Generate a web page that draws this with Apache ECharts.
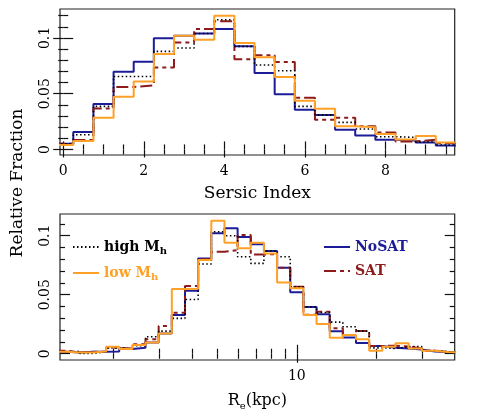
<!DOCTYPE html>
<html>
<head>
<meta charset="utf-8">
<script src="https://cdn.jsdelivr.net/npm/echarts@6/dist/echarts.min.js"></script>
<style>
html,body{margin:0;padding:0;background:#fff;}
#chart{width:480px;height:419px;}
</style>
</head>
<body>
<div id="chart"></div>
<script>
// ---------- DATA ----------
// Top panel: Sersic index histogram (bin centres, bin width 0.5)
const sersicCenters = [0, 0.5, 1, 1.5, 2, 2.5, 3, 3.5, 4, 4.5, 5, 5.5, 6, 6.5, 7, 7.5, 8, 8.5, 9, 9.5];
const sersicNoSAT = [0.005, 0.0156, 0.0407, 0.0697, 0.0787, 0.0997, 0.102, 0.104, 0.108, 0.0925, 0.0686, 0.0494, 0.0356, 0.0309, 0.0177, 0.0126, 0.0087, 0.0081, 0.0063, 0.0036];
const sersicSAT   = [0.005, 0.0084, 0.0368, 0.056, 0.0575, 0.0736, 0.096, 0.108, 0.115, 0.081, 0.0844, 0.0784, 0.0464, 0.0267, 0.0285, 0.0207, 0.0153, 0.0072, 0.0087, 0.0057];
const sersicHigh  = [0.005, 0.0132, 0.0386, 0.0655, 0.0655, 0.088, 0.091, 0.104, 0.1164, 0.0925, 0.0758, 0.0706, 0.0386, 0.031, 0.0243, 0.0183, 0.0114, 0.0108, 0.0066, 0.004];
const sersicLow   = [0.004, 0.0075, 0.0285, 0.0473, 0.061, 0.0856, 0.102, 0.0985, 0.120, 0.0955, 0.0826, 0.065, 0.0437, 0.0365, 0.0207, 0.0198, 0.0138, 0.009, 0.012, 0.0063];
const sersicBinWidth = 0.5;

// Bottom panel: Re histogram (bin centres in log10(Re/kpc), bin width 0.05 dex)
const reLogCenters = [0.10, 0.15, 0.20, 0.25, 0.30, 0.35, 0.40, 0.45, 0.50, 0.55, 0.60, 0.65, 0.70, 0.75, 0.80, 0.85, 0.90, 0.95, 1.00, 1.05, 1.10, 1.15, 1.20, 1.25, 1.30, 1.35, 1.40, 1.45, 1.50, 1.55, 1.60];
const reNoSAT = [0.0017, 0.0011, 0.0017, 0.0017, 0.002, 0.004, 0.005, 0.0096, 0.0172, 0.0328, 0.0534, 0.0808, 0.102, 0.1063, 0.099, 0.0927, 0.087, 0.0729, 0.052, 0.0395, 0.0334, 0.019, 0.0138, 0.0092, 0.0066, 0.005, 0.0045, 0.0035, 0.002, 0.0015, 0.0012];
const reSAT   = [0.0026, 0.0011, 0.0017, 0.0017, 0.005, 0.0045, 0.008, 0.0122, 0.0235, 0.0348, 0.0574, 0.080, 0.0864, 0.0879, 0.1006, 0.084, 0.0845, 0.0729, 0.0568, 0.033, 0.0356, 0.0215, 0.0158, 0.0192, 0.0066, 0.0068, 0.006, 0.0045, 0.0025, 0.0015, 0.0012];
const reHigh  = [0.0017, 0.002, 0.0002, 0.0017, 0.005, 0.004, 0.0068, 0.0144, 0.0192, 0.030, 0.046, 0.076, 0.1034, 0.100, 0.0822, 0.0766, 0.087, 0.0822, 0.0568, 0.0398, 0.035, 0.0268, 0.0229, 0.0192, 0.005, 0.0045, 0.006, 0.006, 0.0028, 0.0018, 0.0012];
const reLow   = [0.0017, 0.0011, 0.0011, 0.002, 0.0059, 0.004, 0.0074, 0.0096, 0.0172, 0.0548, 0.055, 0.0794, 0.1127, 0.094, 0.0893, 0.094, 0.085, 0.0604, 0.0555, 0.0328, 0.0252, 0.0136, 0.0158, 0.0122, 0.0025, 0.0059, 0.0088, 0.0045, 0.0025, 0.0015, 0.0012];
const reBinWidth = 0.05;

// Tick labels / tick positions
const sersicMajorTicks = [0, 2, 4, 6, 8];
const sersicMinorTicks = [0.5, 1, 1.5, 2.5, 3, 3.5, 4.5, 5, 5.5, 6.5, 7, 7.5, 8.5, 9, 9.5];
const fracMajorTicks = [0, 0.05, 0.1];
const fracMinorTicks = [0.01, 0.02, 0.03, 0.04, 0.06, 0.07, 0.08, 0.09, 0.11, 0.12];
const reLabelKpc = [10];
const reMinorKpc = [2, 3, 4, 5, 6, 7, 8, 9, 20, 30];

// ---------- STYLE ----------
const FONT = 'DejaVu Serif';
const C_BLUE = '#1c1c98';
const C_RED = '#8e1b1b';
const C_ORANGE = '#ffa126';
const C_BLACK = '#000000';

function histPoints(centers, values, width) {
  const pts = centers.map((c, i) => [c - width / 2, values[i]]);
  pts.push([centers[centers.length - 1] + width / 2, values[values.length - 1]]);
  return pts;
}

const styles = {
  'NoSAT':   { color: C_BLUE,   width: 2,   type: 'solid' },
  'SAT':     { color: C_RED,    width: 2,   type: [12, 4, 4, 4] },
  'high Mh': { color: C_BLACK,  width: 1.6, type: [1.5, 2.5] },
  'low Mh':  { color: C_ORANGE, width: 2,   type: 'solid' }
};

function mkSeries(name, xi, yi, centers, values, width) {
  const s = styles[name];
  return {
    name, type: 'line', xAxisIndex: xi, yAxisIndex: yi,
    step: 'end', symbol: 'none', showSymbol: false, animation: false,
    lineStyle: { color: s.color, width: s.width, type: s.type },
    itemStyle: { color: s.color },
    data: histPoints(centers, values, width)
  };
}

function tickAxis(base, values, len, showLabel, labelExtra) {
  return Object.assign({
    type: 'value', splitLine: { show: false },
    axisLine: { show: false },
    axisTick: { show: true, inside: true, length: len, customValues: values, lineStyle: { color: '#111', width: 1.2 } },
    axisLabel: showLabel ? Object.assign({ customValues: values, color: '#000', fontFamily: FONT, fontSize: 14 }, labelExtra || {}) : { show: false }
  }, base);
}

const log10 = v => Math.log10(v);
const reMin = 0.1, reMax = 1.6;

const xAxes = [
  // top panel (grid 0)
  tickAxis({ gridIndex: 0, position: 'bottom', min: -0.08, max: 9.72,
    name: 'Sersic Index', nameLocation: 'middle', nameGap: 30,
    nameTextStyle: { fontFamily: FONT, fontSize: 17, color: '#000' } },
    sersicMajorTicks, 8, true, { margin: 9 }),
  tickAxis({ gridIndex: 0, position: 'bottom', min: -0.08, max: 9.72 }, sersicMinorTicks, 5, false),
  tickAxis({ gridIndex: 0, position: 'top', min: -0.08, max: 9.72 }, sersicMajorTicks, 8, false),
  tickAxis({ gridIndex: 0, position: 'top', min: -0.08, max: 9.72 }, sersicMinorTicks, 5, false),
  // bottom panel (grid 1), log10(Re) coordinates
  tickAxis({ gridIndex: 1, position: 'bottom', min: reMin, max: reMax,
    name: 'R{s|e}(kpc)', nameLocation: 'middle', nameGap: 31,
    nameTextStyle: { fontFamily: FONT, fontSize: 16, color: '#000',
      rich: { s: { fontFamily: FONT, fontSize: 10, color: '#000', padding: [10, 0, 0, 0] } } } },
    reLabelKpc.map(log10), 9, true,
    { margin: 9, formatter: v => String(Math.round(Math.pow(10, v))) }),
  tickAxis({ gridIndex: 1, position: 'bottom', min: reMin, max: reMax }, reMinorKpc.map(log10), 5, false),
  tickAxis({ gridIndex: 1, position: 'top', min: reMin, max: reMax }, reLabelKpc.map(log10), 9, false),
  tickAxis({ gridIndex: 1, position: 'top', min: reMin, max: reMax }, reMinorKpc.map(log10), 5, false)
];

const yLabelExtra = { rotate: 90, margin: 8 };
const yAxes = [
  tickAxis({ gridIndex: 0, position: 'left', min: -0.005, max: 0.126 }, fracMajorTicks, 10, true, yLabelExtra),
  tickAxis({ gridIndex: 0, position: 'left', min: -0.005, max: 0.126 }, fracMinorTicks, 5, false),
  tickAxis({ gridIndex: 0, position: 'right', min: -0.005, max: 0.126 }, fracMajorTicks, 10, false),
  tickAxis({ gridIndex: 0, position: 'right', min: -0.005, max: 0.126 }, fracMinorTicks, 5, false),
  tickAxis({ gridIndex: 1, position: 'left', min: -0.0053, max: 0.1184 }, fracMajorTicks, 10, true, yLabelExtra),
  tickAxis({ gridIndex: 1, position: 'left', min: -0.0053, max: 0.1184 }, fracMinorTicks, 5, false),
  tickAxis({ gridIndex: 1, position: 'right', min: -0.0053, max: 0.1184 }, fracMajorTicks, 10, false),
  tickAxis({ gridIndex: 1, position: 'right', min: -0.0053, max: 0.1184 }, fracMinorTicks, 5, false)
];

const legendLabel = { 'high Mh': 'high M{s|h}', 'low Mh': 'low M{s|h}', 'NoSAT': 'NoSAT', 'SAT': 'SAT' };
const legendText = {
  fontFamily: FONT, fontSize: 14, fontWeight: 'bold',
  rich: { s: { fontFamily: FONT, fontSize: 10, fontWeight: 'bold', padding: [8, 0, 0, 0] } }
};
function legendCfg(left, names) {
  return {
    left, top: 240, orient: 'vertical', padding: 0, itemWidth: 26, itemHeight: 14, itemGap: 10,
    selectedMode: false,
    itemStyle: { color: 'transparent', borderColor: 'transparent', borderWidth: 0, opacity: 0 },
    formatter: n => legendLabel[n],
    textStyle: legendText,
    data: names.map(n => ({ name: n, textStyle: { color: styles[n].color } }))
  };
}

const option = {
  backgroundColor: '#fff',
  animation: false,
  grid: [
    { left: 60, top: 9, width: 394.7, height: 146, show: true, borderColor: '#222', borderWidth: 1.2, backgroundColor: 'transparent' },
    { left: 60, top: 214, width: 394.7, height: 146, show: true, borderColor: '#222', borderWidth: 1.2, backgroundColor: 'transparent' }
  ],
  xAxis: xAxes,
  yAxis: yAxes,
  legend: [legendCfg(72, ['high Mh', 'low Mh']), legendCfg(323, ['NoSAT', 'SAT'])],
  graphic: [{
    type: 'text', x: 18, y: 183, rotation: Math.PI / 2,
    style: { text: 'Relative Fraction', fontFamily: FONT, fontSize: 17, fill: '#000', align: 'center', verticalAlign: 'middle' }
  }],
  series: [
    mkSeries('NoSAT', 0, 0, sersicCenters, sersicNoSAT, sersicBinWidth),
    mkSeries('SAT', 0, 0, sersicCenters, sersicSAT, sersicBinWidth),
    mkSeries('high Mh', 0, 0, sersicCenters, sersicHigh, sersicBinWidth),
    mkSeries('low Mh', 0, 0, sersicCenters, sersicLow, sersicBinWidth),
    mkSeries('NoSAT', 4, 4, reLogCenters, reNoSAT, reBinWidth),
    mkSeries('SAT', 4, 4, reLogCenters, reSAT, reBinWidth),
    mkSeries('high Mh', 4, 4, reLogCenters, reHigh, reBinWidth),
    mkSeries('low Mh', 4, 4, reLogCenters, reLow, reBinWidth)
  ]
};

const chart = echarts.init(document.getElementById('chart'), null, { renderer: 'canvas' });
chart.setOption(option);
</script>
</body>
</html>
